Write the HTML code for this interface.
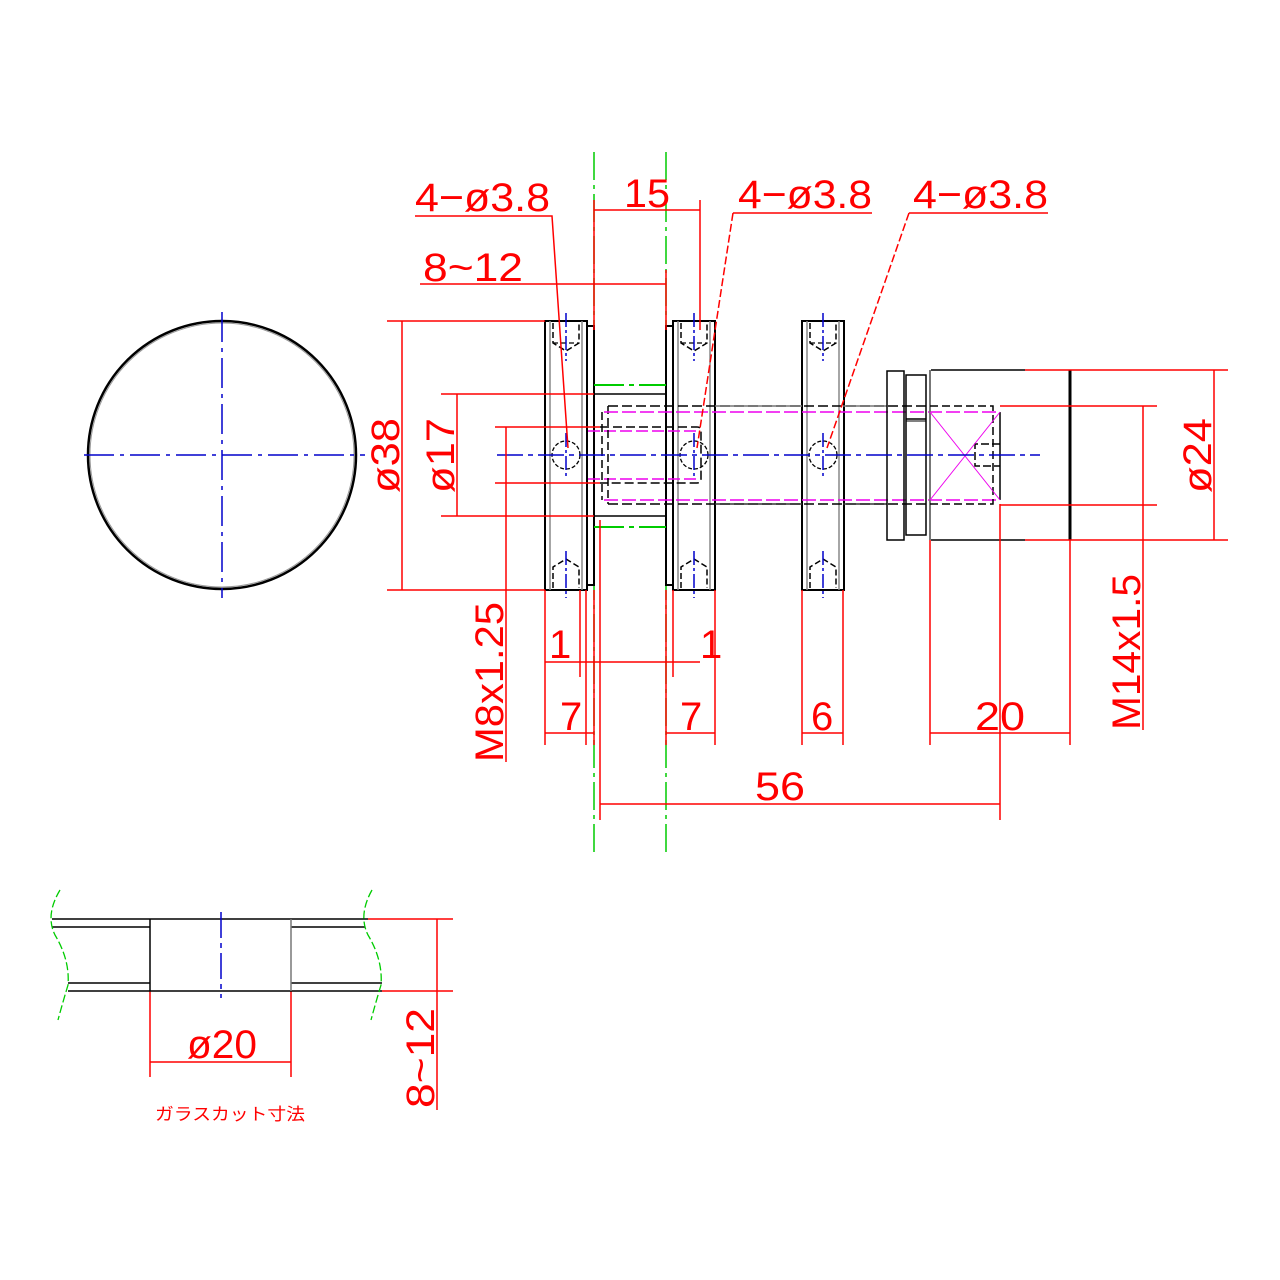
<!DOCTYPE html>
<html><head><meta charset="utf-8"><style>
html,body{margin:0;padding:0;background:#fff;}
svg{display:block}
text{font-family:"Liberation Sans","Noto Sans CJK JP",sans-serif;fill:#f00;}
</style></head><body>
<svg width="1280" height="1280" viewBox="0 0 1280 1280" xmlns="http://www.w3.org/2000/svg">
<defs>
<g id="plate">
  <rect x="0" y="0" width="42" height="269" fill="none" stroke="#000" stroke-width="2"/>
  <line x1="5" y1="0" x2="5" y2="269" stroke="#888" stroke-width="1.5"/>
  <line x1="37" y1="0" x2="37" y2="269" stroke="#888" stroke-width="1.5"/>
  <path d="M8,2 V22 L21,30 L34,22 V2" fill="none" stroke="#000" stroke-width="1.5" stroke-dasharray="6,3"/>
  <path d="M8,22 H34" fill="none" stroke="#000" stroke-width="1.2" stroke-dasharray="5,3"/>
  <path d="M8,267 V246 L21,238 L34,246 V267" fill="none" stroke="#000" stroke-width="1.5" stroke-dasharray="6,3"/>
  <circle cx="21" cy="134" r="14" fill="none" stroke="#000" stroke-width="1.3" stroke-dasharray="4,2"/>
  <line x1="21" y1="-8" x2="21" y2="40" stroke="#00c" stroke-width="1.5" stroke-dasharray="14,3,3,3"/>
  <line x1="21" y1="230" x2="21" y2="277" stroke="#00c" stroke-width="1.5" stroke-dasharray="14,3,3,3"/>
  <line x1="21" y1="112" x2="21" y2="156" stroke="#00c" stroke-width="1.5" stroke-dasharray="14,3,3,3"/>
</g>
</defs>

<!-- left circle -->
<circle cx="222" cy="455" r="134" fill="none" stroke="#000" stroke-width="2.5"/>
<circle cx="222" cy="455" r="132" fill="none" stroke="#999" stroke-width="1"/>
<line x1="222" y1="312" x2="222" y2="598" stroke="#00c" stroke-width="1.5" stroke-dasharray="30,6,4,6"/>
<line x1="84" y1="455" x2="365" y2="455" stroke="#00c" stroke-width="1.5" stroke-dasharray="30,6,4,6"/>

<!-- green centre lines -->
<line x1="594" y1="152" x2="594" y2="855" stroke="#0c0" stroke-width="1.5" stroke-dasharray="28,5,4,5"/>
<line x1="666" y1="152" x2="666" y2="855" stroke="#0c0" stroke-width="1.5" stroke-dasharray="28,5,4,5"/>

<!-- plates -->
<use href="#plate" x="545" y="321"/>
<use href="#plate" x="673" y="321"/>
<use href="#plate" x="802" y="321"/>
<rect x="587" y="326" width="7" height="259" fill="none" stroke="#000" stroke-width="2"/>
<rect x="666" y="326" width="7" height="259" fill="none" stroke="#000" stroke-width="2"/>

<!-- hub -->
<line x1="594" y1="385" x2="666" y2="385" stroke="#0c0" stroke-width="2" stroke-dasharray="30,5,5,5"/>
<line x1="594" y1="527" x2="666" y2="527" stroke="#0c0" stroke-width="2" stroke-dasharray="30,5,5,5"/>
<line x1="594" y1="394" x2="666" y2="394" stroke="#000" stroke-width="1.5"/>
<line x1="594" y1="516" x2="666" y2="516" stroke="#000" stroke-width="1.5"/>
<!-- inner M8 bore -->
<path d="M600,427 H697 Q701,427 701,431 V479 Q701,483 697,483 H600" fill="none" stroke="#000" stroke-width="1.5" stroke-dasharray="9,4"/>
<line x1="588" y1="431" x2="698" y2="431" stroke="#e0e" stroke-width="1.5" stroke-dasharray="12,4"/>
<line x1="588" y1="479" x2="698" y2="479" stroke="#e0e" stroke-width="1.5" stroke-dasharray="12,4"/>
<line x1="602" y1="412" x2="602" y2="500" stroke="#000" stroke-width="1.5" stroke-dasharray="8,4"/>
<line x1="608" y1="406" x2="608" y2="504" stroke="#000" stroke-width="1.5" stroke-dasharray="8,4"/>

<!-- shaft -->
<line x1="608" y1="406" x2="930" y2="406" stroke="#000" stroke-width="1.5" stroke-dasharray="10,4"/>
<line x1="608" y1="504" x2="930" y2="504" stroke="#000" stroke-width="1.5" stroke-dasharray="10,4"/>
<line x1="715" y1="406" x2="802" y2="406" stroke="#777" stroke-width="1.5"/>
<line x1="715" y1="504" x2="802" y2="504" stroke="#333" stroke-width="1.5"/>
<line x1="843" y1="406" x2="887" y2="406" stroke="#777" stroke-width="1.5"/>
<line x1="843" y1="504" x2="887" y2="504" stroke="#333" stroke-width="1.5"/>
<line x1="604" y1="412" x2="1000" y2="412" stroke="#e0e" stroke-width="1.5" stroke-dasharray="14,4"/>
<line x1="604" y1="500" x2="1000" y2="500" stroke="#e0e" stroke-width="1.5" stroke-dasharray="14,4"/>

<!-- right nut -->
<rect x="887" y="371" width="17" height="169" fill="none" stroke="#000" stroke-width="1.5"/>
<path d="M906,375 H926 V535 H906 Z" fill="none" stroke="#000" stroke-width="1.5"/>
<line x1="906" y1="419" x2="926" y2="419" stroke="#000" stroke-width="1.5"/>
<line x1="906" y1="421" x2="926" y2="421" stroke="#000" stroke-width="1"/>
<line x1="930" y1="370" x2="930" y2="540" stroke="#777" stroke-width="2"/>
<line x1="931" y1="370" x2="1025" y2="370" stroke="#000" stroke-width="1.5"/>
<line x1="931" y1="540" x2="1025" y2="540" stroke="#000" stroke-width="1.5"/>
<line x1="1070" y1="370" x2="1070" y2="540" stroke="#000" stroke-width="3"/>
<path d="M930,406 H993 V504 H930" fill="none" stroke="#000" stroke-width="1.5" stroke-dasharray="8,4"/>
<line x1="1000" y1="412" x2="1000" y2="500" stroke="#000" stroke-width="1.5"/>
<path d="M1000,444 H975 V466 H1000" fill="none" stroke="#000" stroke-width="1.5" stroke-dasharray="8,3"/>
<line x1="930" y1="412" x2="1000" y2="500" stroke="#e0e" stroke-width="1"/>
<line x1="930" y1="500" x2="1000" y2="412" stroke="#e0e" stroke-width="1"/>

<!-- main centre line -->
<line x1="497" y1="455" x2="1040" y2="455" stroke="#00c" stroke-width="1.5" stroke-dasharray="26,5,5,5"/>

<!-- RED DIMENSIONS -->
<g stroke="#f00" stroke-width="1.5" fill="none">
  <!-- leaders -->
  <path d="M415,216 H552 L568,448"/>
  <path d="M733,213 H872"/><path d="M733,213 L697,448" stroke-dasharray="8,3"/>
  <path d="M909,213 H1048"/><path d="M909,213 L827,448" stroke-dasharray="8,3"/>
  <!-- 15 -->
  <line x1="594" y1="210" x2="700" y2="210"/>
  <line x1="594" y1="200" x2="594" y2="330"/>
  <line x1="666" y1="270" x2="666" y2="330"/>
  <line x1="700" y1="200" x2="700" y2="330"/>
  <!-- 8~12 -->
  <line x1="420" y1="284" x2="666" y2="284"/>
  <!-- ø38 -->
  <line x1="387" y1="321" x2="545" y2="321"/>
  <line x1="387" y1="590" x2="545" y2="590"/>
  <line x1="402" y1="321" x2="402" y2="590"/>
  <!-- ø17 -->
  <line x1="441" y1="394" x2="594" y2="394"/>
  <line x1="441" y1="516" x2="594" y2="516"/>
  <line x1="457" y1="394" x2="457" y2="516"/>
  <!-- M8 -->
  <line x1="495" y1="427" x2="600" y2="427"/>
  <line x1="495" y1="483" x2="600" y2="483"/>
  <line x1="506" y1="427" x2="506" y2="762"/>
  <!-- verticals down -->
  <line x1="545" y1="590" x2="545" y2="745"/>
  <line x1="580" y1="590" x2="580" y2="677"/>
  <line x1="586" y1="590" x2="586" y2="745"/>
  <line x1="594" y1="590" x2="594" y2="745"/>
  <line x1="600" y1="520" x2="600" y2="820"/>
  <line x1="666" y1="590" x2="666" y2="745"/>
  <line x1="673" y1="590" x2="673" y2="677"/>
  <line x1="715" y1="590" x2="715" y2="745"/>
  <line x1="802" y1="590" x2="802" y2="745"/>
  <line x1="843" y1="590" x2="843" y2="745"/>
  <line x1="930" y1="540" x2="930" y2="745"/>
  <line x1="1000" y1="504" x2="1000" y2="820"/>
  <line x1="1070" y1="540" x2="1070" y2="745"/>
  <!-- rows -->
  <line x1="545" y1="662" x2="700" y2="662"/>
  <line x1="545" y1="733" x2="594" y2="733"/>
  <line x1="666" y1="733" x2="715" y2="733"/>
  <line x1="802" y1="733" x2="843" y2="733"/>
  <line x1="930" y1="733" x2="1070" y2="733"/>
  <line x1="600" y1="804" x2="1000" y2="804"/>
  <!-- ø24 / M14 -->
  <line x1="1025" y1="370" x2="1228" y2="370"/>
  <line x1="1025" y1="540" x2="1228" y2="540"/>
  <line x1="1214" y1="370" x2="1214" y2="540"/>
  <line x1="1000" y1="406" x2="1157" y2="406"/>
  <line x1="1000" y1="505" x2="1157" y2="505"/>
  <line x1="1143" y1="406" x2="1143" y2="730"/>
  <!-- bottom detail -->
  <line x1="150" y1="991" x2="150" y2="1077"/>
  <line x1="291" y1="991" x2="291" y2="1077"/>
  <line x1="150" y1="1062" x2="291" y2="1062"/>
  <line x1="368" y1="919" x2="453" y2="919"/>
  <line x1="382" y1="991" x2="453" y2="991"/>
  <line x1="437" y1="919" x2="437" y2="1110"/>
</g>

<!-- text -->
<g font-size="40">
  <text x="415" y="211" textLength="135" lengthAdjust="spacingAndGlyphs">4−ø3.8</text>
  <text x="738" y="208" textLength="134" lengthAdjust="spacingAndGlyphs">4−ø3.8</text>
  <text x="913" y="208" textLength="135" lengthAdjust="spacingAndGlyphs">4−ø3.8</text>
  <text x="624" y="207" textLength="46" lengthAdjust="spacingAndGlyphs">15</text>
  <text x="423" y="281" textLength="100" lengthAdjust="spacingAndGlyphs">8~12</text>
  <text x="549" y="658">1</text>
  <text x="700" y="658">1</text>
  <text x="560" y="730">7</text>
  <text x="680" y="730">7</text>
  <text x="811" y="730">6</text>
  <text x="975" y="730" textLength="50" lengthAdjust="spacingAndGlyphs">20</text>
  <text x="755" y="800" textLength="50" lengthAdjust="spacingAndGlyphs">56</text>
  <text transform="translate(399,493) rotate(-90)" textLength="75" lengthAdjust="spacingAndGlyphs">ø38</text>
  <text transform="translate(454,493) rotate(-90)" textLength="75" lengthAdjust="spacingAndGlyphs">ø17</text>
  <text transform="translate(503,762) rotate(-90)" textLength="160" lengthAdjust="spacingAndGlyphs">M8x1.25</text>
  <text transform="translate(1140,730) rotate(-90)" textLength="156" lengthAdjust="spacingAndGlyphs">M14x1.5</text>
  <text transform="translate(1211,493) rotate(-90)" textLength="75" lengthAdjust="spacingAndGlyphs">ø24</text>
  <text x="187" y="1058" textLength="70" lengthAdjust="spacingAndGlyphs">ø20</text>
  <text transform="translate(434,1108) rotate(-90)" textLength="100" lengthAdjust="spacingAndGlyphs">8~12</text>
</g>
<text x="155" y="1120" font-size="17" textLength="150" lengthAdjust="spacingAndGlyphs">ガラスカット寸法</text>

<!-- glass section -->
<g stroke="#000" stroke-width="1.5" fill="none">
  <line x1="52" y1="919" x2="368" y2="919"/>
  <line x1="52" y1="927" x2="150" y2="927"/>
  <line x1="291" y1="927" x2="365" y2="927"/>
  <line x1="68" y1="983" x2="150" y2="983"/>
  <line x1="291" y1="983" x2="382" y2="983"/>
  <line x1="68" y1="991" x2="382" y2="991"/>
  <line x1="150" y1="919" x2="150" y2="991"/>
  <line x1="291" y1="919" x2="291" y2="991" stroke="#777"/>
</g>
<line x1="221" y1="912" x2="221" y2="998" stroke="#00c" stroke-width="1.5" stroke-dasharray="26,5,5,5"/>
<g stroke="#0c0" stroke-width="1.3" fill="none" stroke-dasharray="8,3">
  <path d="M60,890 Q45,915 55,935 Q70,960 68,985 Q62,1005 58,1020"/>
  <path d="M372,890 Q358,915 368,935 Q383,960 381,985 Q375,1005 371,1020"/>
</g>
</svg>
</body></html>
